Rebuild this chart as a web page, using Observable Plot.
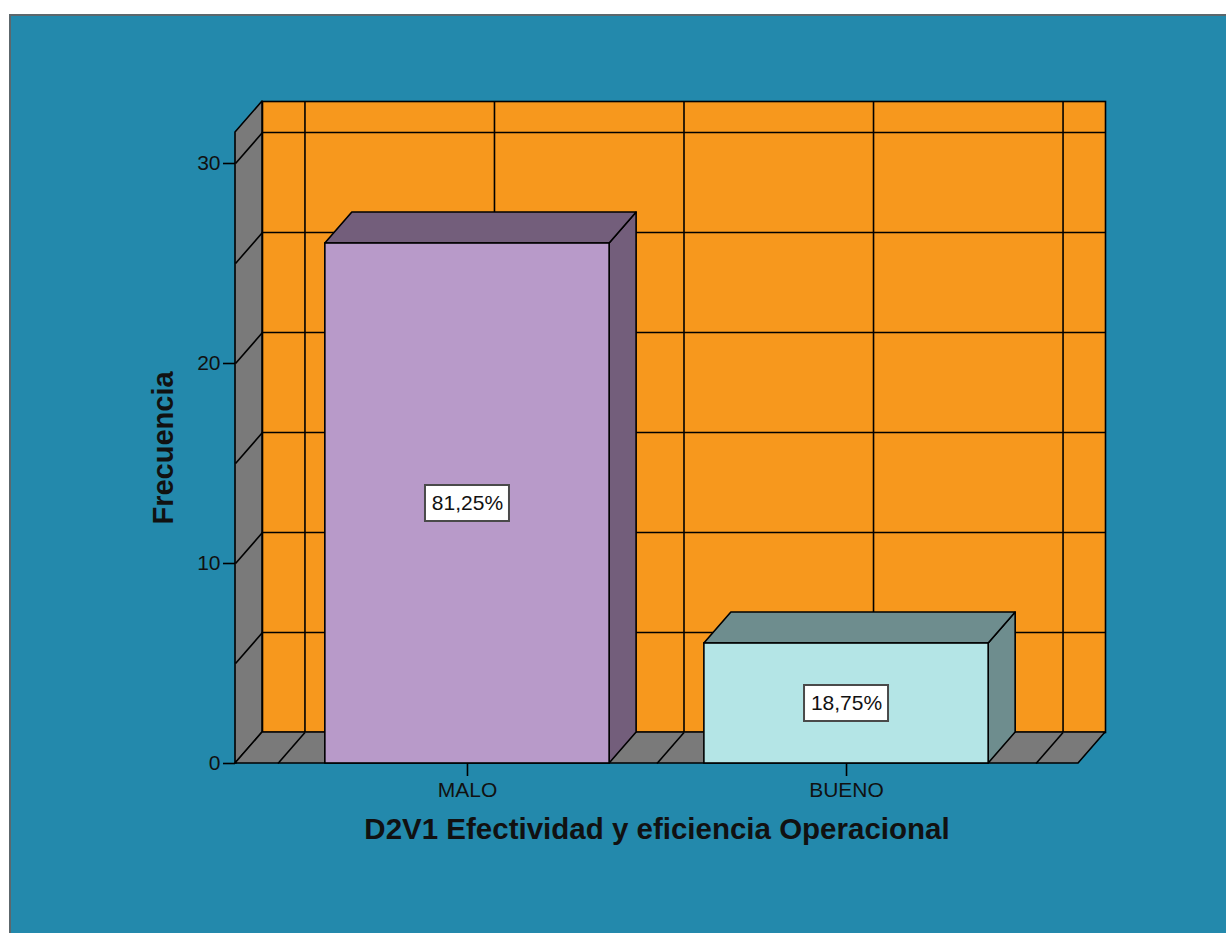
<!DOCTYPE html>
<html><head><meta charset="utf-8">
<script src="https://cdn.jsdelivr.net/npm/d3@7"></script>
<script src="https://cdn.jsdelivr.net/npm/@observablehq/plot@0.6"></script>
<style>
html,body{margin:0;padding:0;background:#fff;overflow:hidden;width:1226px;height:933px;}
#panel{position:absolute;left:9px;top:14px;width:1240px;height:940px;background:#2389ac;border-left:2px solid #5c676c;border-top:2px solid #5c676c;}
#chart{position:absolute;left:0;top:0;}
</style></head><body>
<div id="panel"></div><div id="chart"></div>
<script>
// ---- data ----
const categories = ["MALO", "BUENO"];
const frequencies = [26, 6];
const yTicks = [0, 10, 20, 30];
const gridValues = [0, 5, 10, 15, 20, 25, 30];
const xTitle = "D2V1 Efectividad y eficiencia Operacional";
const yTitle = "Frecuencia";

// ---- styles / layout ----
const COLORS = {
  wall: "#f7981d", side: "#7a7a7a",
  front: {MALO: "#b89ac9", BUENO: "#b4e5e6"},
  shade: {MALO: "#735e7b", BUENO: "#6e8d8e"}
};
const W = 1226, H = 933, mL = 235, mR = 148, mT = 132, mB = 170;
const xDomain = [-0.612, 1.612];
const yMax = 31.55;
const pxX = (W - mL - mR) / (xDomain[1] - xDomain[0]);
const pxY = (H - mT - mB) / yMax;
const DPX = 27, DPY = 31;          // depth offset in pixels
const DX = DPX / pxX, DY = DPY / pxY; // depth offset in data units
const HALF = 0.375;                 // half bar width (band units)
const xGrid = [-0.5, 0, 0.5, 1, 1.5];
const SW = 1.6;

const total = d3.sum(frequencies);
const bars = categories.map((c, i) => ({
  cat: c, i, v: frequencies[i], x1: i - HALF, x2: i + HALF,
  label: (frequencies[i] / total * 100).toFixed(2).replace(".", ",") + "%"
}));

const barMarks = bars.flatMap(b => [
  Plot.areaY([{x: b.x2, y1: 0, y2: b.v}, {x: b.x2 + DX, y1: DY, y2: b.v + DY}],
    {x: "x", y1: "y1", y2: "y2", fill: COLORS.shade[b.cat], stroke: "black", strokeWidth: SW}),
  Plot.areaX([{y: b.v, x1: b.x1, x2: b.x2}, {y: b.v + DY, x1: b.x1 + DX, x2: b.x2 + DX}],
    {y: "y", x1: "x1", x2: "x2", fill: COLORS.shade[b.cat], stroke: "black", strokeWidth: SW}),
  Plot.rectY([b], {x1: "x1", x2: "x2", y: "v", fill: COLORS.front[b.cat], stroke: "black", strokeWidth: SW})
]);

const chart = Plot.plot({
  width: W, height: H,
  marginLeft: mL, marginRight: mR, marginTop: mT, marginBottom: mB,
  style: {background: "transparent", fontFamily: "'Liberation Sans', Arial, sans-serif", color: "#111"},
  x: {domain: xDomain},
  y: {domain: [0, yMax]},
  marks: [
    // back wall
    Plot.frame({fill: COLORS.wall, stroke: "black", strokeWidth: SW, dx: DPX, dy: -DPY}),
    Plot.ruleY(gridValues, {stroke: "black", strokeWidth: SW, dx: DPX, dy: -DPY}),
    Plot.ruleX(xGrid, {stroke: "black", strokeWidth: SW, dx: DPX, dy: -DPY}),
    // left wall
    Plot.areaY([{x: xDomain[0], y1: 0, y2: yMax}, {x: xDomain[0] + DX, y1: DY, y2: yMax + DY}],
      {x: "x", y1: "y1", y2: "y2", fill: COLORS.side, stroke: "black", strokeWidth: SW}),
    Plot.link(gridValues, {x1: () => xDomain[0], y1: d => d, x2: () => xDomain[0] + DX, y2: d => d + DY, stroke: "black", strokeWidth: SW}),
    // floor
    Plot.areaX([{y: 0, x1: xDomain[0], x2: xDomain[1]}, {y: DY, x1: xDomain[0] + DX, x2: xDomain[1] + DX}],
      {y: "y", x1: "x1", x2: "x2", fill: COLORS.side, stroke: "black", strokeWidth: SW}),
    Plot.link(xGrid, {x1: d => d, y1: () => 0, x2: d => d + DX, y2: () => DY, stroke: "black", strokeWidth: SW}),
    // bars
    ...barMarks,
    // value labels
    Plot.rect(bars, {x1: "i", x2: "i", y1: d => d.v / 2, y2: d => d.v / 2,
      insetLeft: -42, insetRight: -42, insetTop: -18, insetBottom: -18,
      fill: "white", stroke: "#4a4a4a", strokeWidth: 2}),
    Plot.text(bars, {x: "i", y: d => d.v / 2, text: "label", fontSize: 21, fill: "#111"}),
    // axes
    Plot.axisY(yTicks, {tickSize: 12, tickPadding: 3, fontSize: 21, label: null, stroke: "black", strokeWidth: SW}),
    Plot.axisX([0, 1], {tickFormat: i => categories[i], tickSize: 13, tickPadding: 6, fontSize: 21, label: null, stroke: "black", strokeWidth: SW}),
    // titles
    Plot.text([yTitle], {text: d => d, frameAnchor: "left", dx: -72, rotate: -90, textAnchor: "middle", fontSize: 29, fontWeight: "bold", fill: "#111"}),
    Plot.text([xTitle], {text: d => d, frameAnchor: "bottom", dy: 75, textAnchor: "middle", fontSize: 29.5, fontWeight: "bold", fill: "#111"})
  ]
});
document.getElementById("chart").appendChild(chart);
</script>
</body></html>
